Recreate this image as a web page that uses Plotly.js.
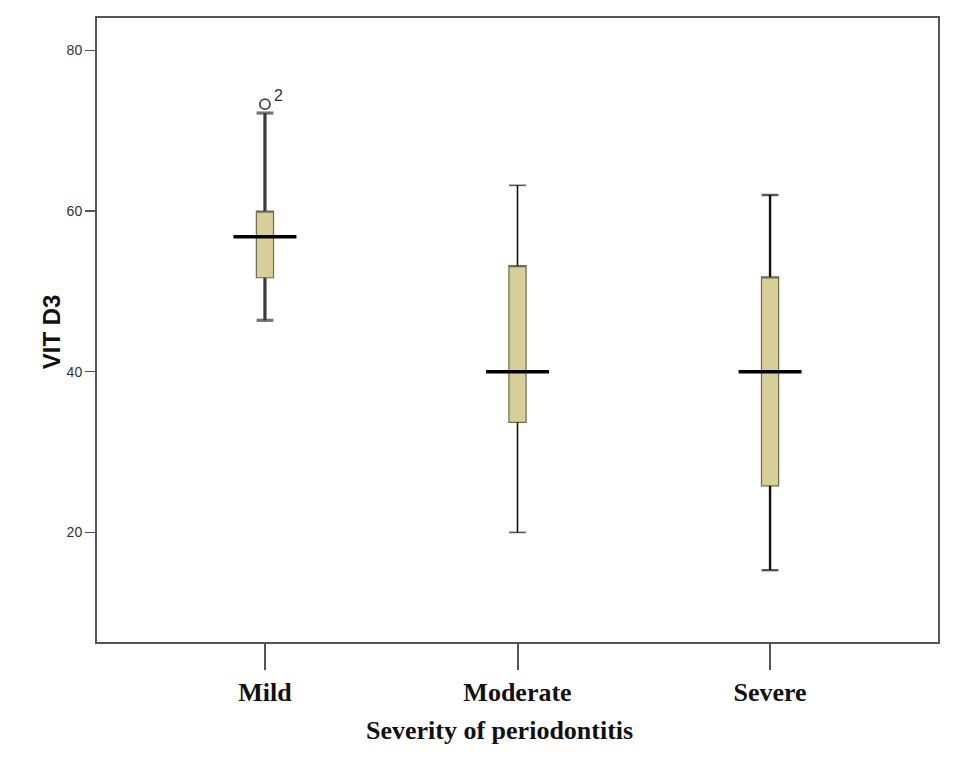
<!DOCTYPE html>
<html>
<head>
<meta charset="utf-8">
<script src="https://cdn.plot.ly/plotly-3.0.1.min.js"></script>
<style>html,body{margin:0;padding:0;background:#fff;}#chart{width:957px;height:767px;}</style>
</head>
<body>
<div id="chart"></div>
<script>
const categories = ['Mild', 'Moderate', 'Severe'];
const lowerWhisker = [46.4, 20.0, 15.3];
const q1 = [51.7, 33.7, 25.8];
const median = [56.8, 40.0, 40.0];
const q3 = [60.0, 53.2, 51.8];
const upperWhisker = [72.2, 63.2, 62.0];
const outlierCategory = ['Mild'];
const outlierValue = [73.3];
const outlierLabel = ['2'];
const yTicks = [20, 40, 60, 80];

const whiskerWidths = [3.2, 1.6, 2.4];
const whiskerColors = ['#3a3a3a', '#111', '#111'];

const traces = [];
// whiskers (vertical stems + end caps)
categories.forEach((c, i) => {
  [[q3[i], upperWhisker[i]], [q1[i], lowerWhisker[i]]].forEach(pair => {
    traces.push({
      type: 'scatter', mode: 'lines+markers',
      x: [c, c], y: pair,
      line: {color: whiskerColors[i], width: whiskerWidths[i]},
      marker: {symbol: 'line-ew', size: [0, 12], color: whiskerColors[i],
               line: {color: whiskerColors[i], width: whiskerWidths[i]}},
      hoverinfo: 'skip', showlegend: false
    });
  });
});
// boxes
categories.forEach((c, i) => {
  traces.push({
    type: 'box',
    x: [c],
    q1: [q1[i]], median: [q3[i]], q3: [q3[i]],
    lowerfence: [q1[i]], upperfence: [q3[i]],
    boxpoints: false,
    width: 0.068,
    whiskerwidth: 0,
    fillcolor: '#d6cf98',
    line: {color: '#6f6c4c', width: 1.2},
    hoverinfo: 'skip',
    showlegend: false
  });
});
// medians, drawn wider than the box like SPSS
traces.push({
  type: 'scatter', mode: 'markers',
  x: categories, y: median,
  marker: {symbol: 'line-ew', size: 45, color: '#000', line: {color: '#000', width: 3.5}},
  hoverinfo: 'skip', showlegend: false
});
// outlier
traces.push({
  type: 'scatter', mode: 'markers',
  x: outlierCategory, y: outlierValue,
  marker: {symbol: 'circle-open', size: 10, color: '#444', line: {color: '#444', width: 1.8}},
  hoverinfo: 'skip', showlegend: false, cliponaxis: false
});

const annotations = outlierCategory.map((c, i) => ({
  text: outlierLabel[i], x: c, y: outlierValue[i], xref: 'x', yref: 'y',
  showarrow: false, xanchor: 'left', yanchor: 'middle', xshift: 7, yshift: 9,
  font: {family: 'Liberation Sans, Arial, sans-serif', size: 16, color: '#333'}
}));
annotations.push({
  text: '<b>VIT D3</b>', xref: 'paper', yref: 'paper',
  x: -0.0547, y: 0.498, xanchor: 'center', yanchor: 'middle',
  textangle: -90, showarrow: false,
  font: {family: 'Liberation Sans, Arial, sans-serif', size: 24, color: '#111'}
}, {
  text: '<b>Severity of periodontitis</b>', xref: 'paper', yref: 'paper',
  x: 0.479, y: -0.1425, xanchor: 'center', yanchor: 'middle',
  showarrow: false,
  font: {family: 'Liberation Serif, Times New Roman, serif', size: 26, color: '#111'}
});

const layout = {
  width: 957, height: 767,
  margin: {l: 97, r: 19, t: 18, b: 125},
  paper_bgcolor: '#fff', plot_bgcolor: '#fff',
  showlegend: false,
  boxmode: 'overlay',
  xaxis: {
    type: 'category', categoryorder: 'array', categoryarray: categories,
    range: [-0.665, 2.665],
    showgrid: false, zeroline: false,
    showline: true, linecolor: '#555', linewidth: 2, mirror: true,
    ticks: 'outside', ticklen: 26, tickwidth: 2, tickcolor: '#555',
    tickfont: {family: 'Liberation Serif, Times New Roman, serif', size: 26, color: '#111', weight: 'bold'}
  },
  yaxis: {
    range: [6.36, 84.03],
    tickvals: yTicks,
    showgrid: false, zeroline: false,
    showline: true, linecolor: '#555', linewidth: 2, mirror: true,
    ticks: 'outside', ticklen: 10, tickwidth: 1.5, tickcolor: '#555',
    tickfont: {family: 'Liberation Sans, Arial, sans-serif', size: 14, color: '#333'}
  },
  annotations: annotations
};

Plotly.newPlot('chart', traces, layout, {displayModeBar: false, staticPlot: true});
</script>
</body>
</html>
